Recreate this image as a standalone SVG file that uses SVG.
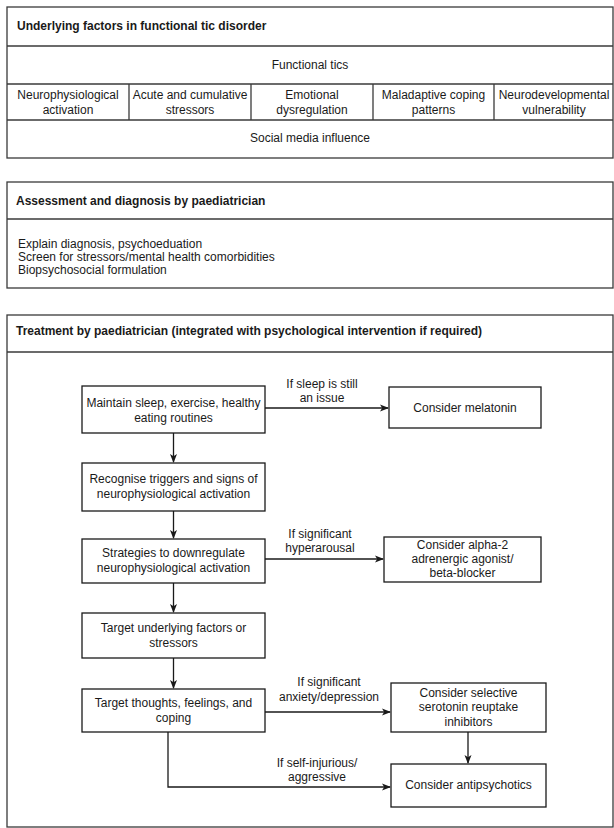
<svg xmlns="http://www.w3.org/2000/svg" width="614" height="828" viewBox="0 0 614 828">
<style>
  .frame{fill:#fff;stroke:#3a3a3a;stroke-width:1.3}
  .ln{stroke:#3a3a3a;stroke-width:1.3;fill:none}
  .box{fill:#fff;stroke:#1a1a1a;stroke-width:1.3}
  .t{font-family:"Liberation Sans",Arial,sans-serif;font-size:12px;fill:#1a1a1a}
  .b{font-weight:bold}
  .c{text-anchor:middle}
  .edge{stroke:#1a1a1a;stroke-width:1.3;fill:none}
</style>
<defs>
  <marker id="ah" markerWidth="10" markerHeight="8" refX="8" refY="4" orient="auto" markerUnits="userSpaceOnUse">
    <path d="M0,0.5 L9,4 L0,7.5 L2.2,4 Z" fill="#1a1a1a"/>
  </marker>
</defs>
<rect width="614" height="828" fill="#fff"/>

<g id="section-underlying">
  <rect class="frame" x="7" y="7" width="606" height="151"/>
  <line class="ln" x1="7" y1="46" x2="613" y2="46"/>
  <line class="ln" x1="7" y1="84" x2="613" y2="84"/>
  <line class="ln" x1="7" y1="120" x2="613" y2="120"/>
  <line class="ln" x1="129" y1="84" x2="129" y2="120"/>
  <line class="ln" x1="251" y1="84" x2="251" y2="120"/>
  <line class="ln" x1="373" y1="84" x2="373" y2="120"/>
  <line class="ln" x1="494" y1="84" x2="494" y2="120"/>
  <text class="t b" x="17" y="30">Underlying factors in functional tic disorder</text>
  <text class="t c" x="310" y="69">Functional tics</text>
  <text class="t c" x="68" y="99">Neurophysiological</text>
  <text class="t c" x="68" y="114">activation</text>
  <text class="t c" x="190" y="99">Acute and cumulative</text>
  <text class="t c" x="190" y="114">stressors</text>
  <text class="t c" x="312" y="99">Emotional</text>
  <text class="t c" x="312" y="114">dysregulation</text>
  <text class="t c" x="433.5" y="99">Maladaptive coping</text>
  <text class="t c" x="433.5" y="114">patterns</text>
  <text class="t c" x="554" y="99">Neurodevelopmental</text>
  <text class="t c" x="554" y="114">vulnerability</text>
  <text class="t c" x="310" y="142">Social media influence</text>
</g>

<g id="section-assessment">
  <rect class="frame" x="7" y="182" width="606" height="106"/>
  <line class="ln" x1="7" y1="219" x2="613" y2="219"/>
  <text class="t b" x="16" y="205">Assessment and diagnosis by paediatrician</text>
  <text class="t" x="18" y="248">Explain diagnosis, psychoeduation</text>
  <text class="t" x="18" y="261">Screen for stressors/mental health comorbidities</text>
  <text class="t" x="18" y="274">Biopsychosocial formulation</text>
</g>

<g id="section-treatment">
  <rect class="frame" x="7" y="315" width="606" height="512"/>
  <line class="ln" x1="7" y1="352" x2="613" y2="352"/>
  <text class="t b" x="16" y="335">Treatment by paediatrician (integrated with psychological intervention if required)</text>
</g>

<g id="connectors">
  <line class="edge" x1="173.5" y1="433" x2="173.5" y2="462" marker-end="url(#ah)"/>
  <line class="edge" x1="173.5" y1="511" x2="173.5" y2="538" marker-end="url(#ah)"/>
  <line class="edge" x1="173.5" y1="583" x2="173.5" y2="612" marker-end="url(#ah)"/>
  <line class="edge" x1="173.5" y1="658" x2="173.5" y2="688" marker-end="url(#ah)"/>
  <line class="edge" x1="265" y1="408" x2="388" y2="408" marker-end="url(#ah)"/>
  <line class="edge" x1="265" y1="559" x2="383" y2="559" marker-end="url(#ah)"/>
  <line class="edge" x1="265" y1="712" x2="390" y2="712" marker-end="url(#ah)"/>
  <line class="edge" x1="468" y1="732" x2="468" y2="763" marker-end="url(#ah)"/>
  <polyline class="edge" points="168,732 168,787 390,787" marker-end="url(#ah)"/>
  <text class="t c" x="322" y="388">If sleep is still</text>
  <text class="t c" x="322" y="402">an issue</text>
  <text class="t c" x="320" y="538">If significant</text>
  <text class="t c" x="320" y="552">hyperarousal</text>
  <text class="t c" x="329" y="686">If significant</text>
  <text class="t c" x="329" y="701">anxiety/depression</text>
  <text class="t c" x="317" y="767">If self-injurious/</text>
  <text class="t c" x="317" y="781">aggressive</text>
</g>

<g id="node-routines">
  <rect class="box" x="82" y="386" width="183" height="47"/>
  <text class="t c" x="173.5" y="407">Maintain sleep, exercise, healthy</text>
  <text class="t c" x="173.5" y="422">eating routines</text>
</g>
<g id="node-recognise">
  <rect class="box" x="82" y="463" width="183" height="48"/>
  <text class="t c" x="173.5" y="483">Recognise triggers and signs of</text>
  <text class="t c" x="173.5" y="498">neurophysiological activation</text>
</g>
<g id="node-strategies">
  <rect class="box" x="82" y="539" width="183" height="44"/>
  <text class="t c" x="173.5" y="557">Strategies to downregulate</text>
  <text class="t c" x="173.5" y="572">neurophysiological activation</text>
</g>
<g id="node-target-factors">
  <rect class="box" x="82" y="613" width="183" height="45"/>
  <text class="t c" x="173.5" y="632">Target underlying factors or</text>
  <text class="t c" x="173.5" y="647">stressors</text>
</g>
<g id="node-target-thoughts">
  <rect class="box" x="82" y="689" width="183" height="43"/>
  <text class="t c" x="173.5" y="707">Target thoughts, feelings, and</text>
  <text class="t c" x="173.5" y="722">coping</text>
</g>
<g id="node-melatonin">
  <rect class="box" x="389" y="387" width="152" height="41"/>
  <text class="t c" x="465" y="412">Consider melatonin</text>
</g>
<g id="node-alpha2">
  <rect class="box" x="384" y="537" width="157" height="45"/>
  <text class="t c" x="462.5" y="549">Consider alpha-2</text>
  <text class="t c" x="462.5" y="563">adrenergic agonist/</text>
  <text class="t c" x="462.5" y="577">beta-blocker</text>
</g>
<g id="node-ssri">
  <rect class="box" x="391" y="683" width="155" height="49"/>
  <text class="t c" x="468.5" y="697">Consider selective</text>
  <text class="t c" x="468.5" y="711">serotonin reuptake</text>
  <text class="t c" x="468.5" y="726">inhibitors</text>
</g>
<g id="node-antipsychotics">
  <rect class="box" x="391" y="764" width="155" height="43"/>
  <text class="t c" x="468.5" y="789">Consider antipsychotics</text>
</g>
</svg>
